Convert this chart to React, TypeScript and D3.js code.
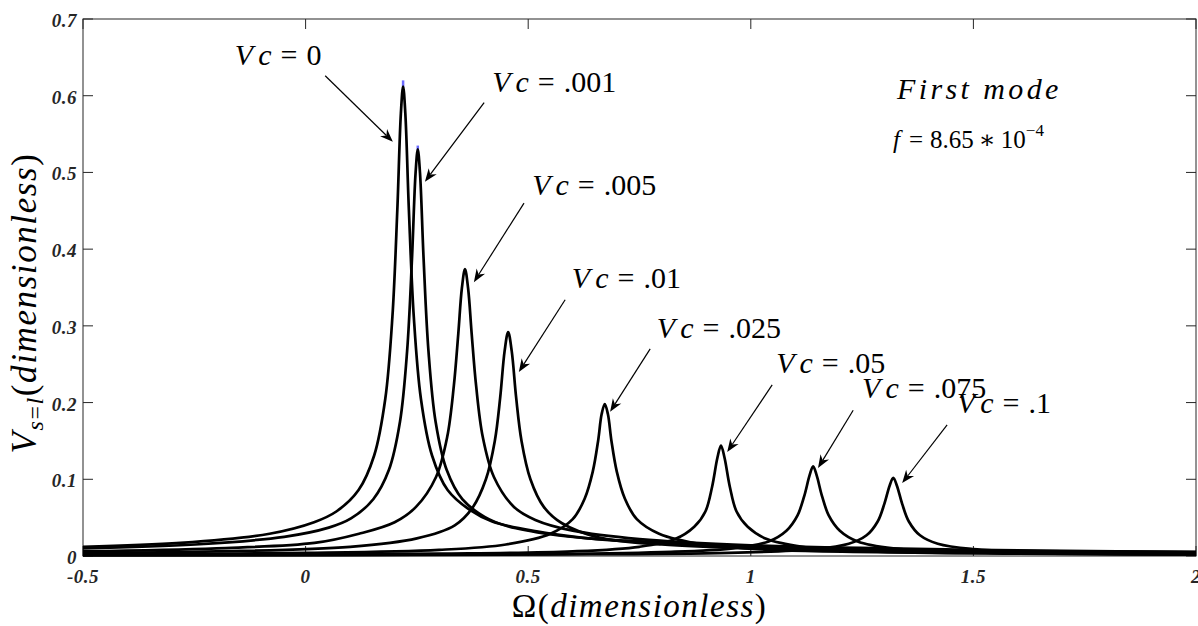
import React from 'react';
import * as d3 from 'd3';

const WIDTH = 1198;
const HEIGHT = 626;
const MARGIN = { top: 19, right: 2, bottom: 70, left: 83 };

const xTicks = [-0.5, 0, 0.5, 1, 1.5, 2];
const xTickLabels = ['-0.5', '0', '0.5', '1', '1.5', '2'];
const yTicks = [0, 0.1, 0.2, 0.3, 0.4, 0.5, 0.6, 0.7];
const yTickLabels = ['0', '0.1', '0.2', '0.3', '0.4', '0.5', '0.6', '0.7'];

// response curves (Omega, V_s=l)
const omegaVc0 = [-0.5, -0.281, -0.081, 0.019, 0.069, 0.119, 0.154, 0.179, 0.195, 0.206, 0.214, 0.219, 0.224, 0.232, 0.243, 0.259, 0.284, 0.319, 0.369, 0.419, 0.519, 0.619, 0.719, 1.0, 1.5, 2.0];
const ampVc0 = [0.012, 0.017, 0.029, 0.044, 0.058, 0.086, 0.131, 0.205, 0.312, 0.451, 0.577, 0.612, 0.577, 0.451, 0.312, 0.205, 0.131, 0.086, 0.06, 0.045, 0.032, 0.024, 0.02, 0.013, 0.007, 0.005];

const omegaVc001 = [-0.5, -0.248, -0.048, 0.052, 0.102, 0.152, 0.187, 0.212, 0.228, 0.239, 0.247, 0.252, 0.257, 0.265, 0.276, 0.292, 0.317, 0.352, 0.402, 0.452, 0.552, 0.652, 0.752, 1.0, 1.5, 2.0];
const ampVc001 = [0.01, 0.015, 0.025, 0.037, 0.049, 0.074, 0.112, 0.175, 0.267, 0.388, 0.499, 0.53, 0.499, 0.388, 0.267, 0.175, 0.112, 0.074, 0.051, 0.039, 0.028, 0.022, 0.018, 0.012, 0.007, 0.005];

const omegaVc005 = [-0.5, -0.2, 0.02, 0.12, 0.2, 0.248, 0.293, 0.318, 0.333, 0.343, 0.351, 0.358, 0.365, 0.373, 0.383, 0.398, 0.423, 0.468, 0.516, 0.6, 0.75, 1.0, 1.5, 2.0];
const ampVc005 = [0.006, 0.01, 0.017, 0.029, 0.044, 0.064, 0.103, 0.155, 0.222, 0.29, 0.349, 0.374, 0.349, 0.29, 0.222, 0.155, 0.103, 0.064, 0.047, 0.033, 0.022, 0.014, 0.008, 0.005];

const omegaVc01 = [-0.5, -0.2, 0.1, 0.25, 0.335, 0.375, 0.405, 0.425, 0.437, 0.447, 0.455, 0.463, 0.473, 0.485, 0.505, 0.535, 0.575, 0.66, 0.8, 1.0, 1.5, 2.0];
const ampVc01 = [0.004, 0.006, 0.012, 0.023, 0.04, 0.063, 0.1, 0.15, 0.206, 0.267, 0.292, 0.267, 0.206, 0.15, 0.1, 0.064, 0.043, 0.024, 0.015, 0.01, 0.006, 0.004];

const omegaVc025 = [-0.5, 0.0, 0.3, 0.45, 0.55, 0.6, 0.627, 0.645, 0.657, 0.665, 0.672, 0.679, 0.687, 0.699, 0.717, 0.744, 0.794, 0.894, 1.05, 1.5, 2.0];
const ampVc025 = [0.002, 0.004, 0.008, 0.015, 0.029, 0.048, 0.075, 0.11, 0.15, 0.185, 0.198, 0.185, 0.15, 0.11, 0.075, 0.048, 0.029, 0.015, 0.008, 0.004, 0.003];

const omegaVc05 = [-0.5, 0.3, 0.6, 0.75, 0.83, 0.873, 0.898, 0.913, 0.925, 0.933, 0.941, 0.953, 0.968, 0.993, 1.036, 1.116, 1.266, 1.6, 2.0];
const ampVc05 = [0.001, 0.003, 0.006, 0.012, 0.022, 0.038, 0.058, 0.09, 0.128, 0.144, 0.128, 0.09, 0.058, 0.038, 0.022, 0.012, 0.006, 0.003, 0.002];

const omegaVc075 = [-0.5, 0.5, 0.8, 0.96, 1.04, 1.08, 1.105, 1.12, 1.132, 1.14, 1.148, 1.16, 1.175, 1.2, 1.24, 1.32, 1.48, 2.0];
const ampVc075 = [0.001, 0.002, 0.005, 0.01, 0.019, 0.033, 0.053, 0.078, 0.105, 0.117, 0.105, 0.078, 0.053, 0.033, 0.019, 0.01, 0.005, 0.002];

const omegaVc1 = [-0.5, 0.5, 0.95, 1.14, 1.22, 1.26, 1.285, 1.3, 1.312, 1.32, 1.328, 1.34, 1.355, 1.38, 1.42, 1.5, 1.69, 2.0];
const ampVc1 = [0.001, 0.002, 0.004, 0.009, 0.016, 0.027, 0.045, 0.068, 0.092, 0.102, 0.092, 0.068, 0.045, 0.027, 0.016, 0.009, 0.004, 0.002];

const vcNames = ['0', '.001', '.005', '.01', '.025', '.05', '.075', '.1'];

// annotation positions in data units
const labelOmega = [-0.159, 0.419, 0.509, 0.598, 0.789, 1.057, 1.25, 1.463];
const labelAmp = [0.64, 0.605, 0.471, 0.349, 0.284, 0.2386, 0.206, 0.186];
const arrowFromOmega = [0.044, 0.401, 0.4906, 0.583, 0.774, 1.048, 1.23, 1.441];
const arrowFromAmp = [0.626, 0.591, 0.46, 0.334, 0.27, 0.223, 0.19, 0.171];
const arrowToOmega = [0.196, 0.268, 0.378, 0.479, 0.684, 0.947, 1.151, 1.34];
const arrowToAmp = [0.54, 0.488, 0.357, 0.24, 0.188, 0.1356, 0.1147, 0.095];

// blue peak markers on the first two curves
const markOmega = [0.219, 0.252];
const markLow = [0.611, 0.529];
const markHigh = [0.62, 0.535];

const series = [
  [omegaVc0, ampVc0],
  [omegaVc001, ampVc001],
  [omegaVc005, ampVc005],
  [omegaVc01, ampVc01],
  [omegaVc025, ampVc025],
  [omegaVc05, ampVc05],
  [omegaVc075, ampVc075],
  [omegaVc1, ampVc1],
].map(([om, am]) => om.map((o, i) => [o, am[i]] as [number, number]));

const SERIF = "'Liberation Serif', Tinos, 'Times New Roman', 'DejaVu Serif', serif";
const AXIS_COLOR = '#262626';

function arrowHead(sx: number, sy: number, tx: number, ty: number) {
  const len = Math.hypot(tx - sx, ty - sy);
  const ux = (tx - sx) / len;
  const uy = (ty - sy) / len;
  const nx = -uy;
  const ny = ux;
  const L = 13, W = 5, N = 4;
  const bx = tx - L * ux, by = ty - L * uy;
  const mx = tx - (L - N) * ux, my = ty - (L - N) * uy;
  return {
    head: `M${tx},${ty}L${bx + W * nx},${by + W * ny}L${mx},${my}L${bx - W * nx},${by - W * ny}Z`,
    mx,
    my,
  };
}

export default function App() {
  const x = d3.scaleLinear().domain([-0.5, 2]).range([MARGIN.left, WIDTH - MARGIN.right]);
  const y = d3.scaleLinear().domain([0, 0.7]).range([HEIGHT - MARGIN.bottom, MARGIN.top]);
  const line = d3
    .line<[number, number]>()
    .x(d => x(d[0]))
    .y(d => y(d[1]))
    .curve(d3.curveCatmullRom.alpha(0.5));

  const left = MARGIN.left;
  const right = WIDTH - MARGIN.right;
  const top = MARGIN.top;
  const bottom = HEIGHT - MARGIN.bottom;
  const TICK = 10;

  return (
    <div style={{ position: 'absolute', left: 0, top: 0 }}>
      <svg width={WIDTH} height={HEIGHT} style={{ display: 'block', background: '#fff', fontFamily: SERIF }}>
        {/* frame */}
        <rect x={left} y={top} width={right - left} height={bottom - top} fill="none" stroke={AXIS_COLOR} strokeWidth={1} />

        {/* ticks */}
        {xTicks.map((t, i) => (
          <g key={'xt' + i}>
            <line x1={x(t)} x2={x(t)} y1={bottom} y2={bottom - TICK} stroke={AXIS_COLOR} />
            <line x1={x(t)} x2={x(t)} y1={top} y2={top + TICK} stroke={AXIS_COLOR} />
            <text
              x={x(t)}
              y={bottom + 27}
              textAnchor="middle"
              style={{ fontFamily: SERIF, fontWeight: 'bold', fontStyle: 'italic', fontSize: 19, letterSpacing: 0.5 }}
              fill={AXIS_COLOR}
            >
              {xTickLabels[i]}
            </text>
          </g>
        ))}
        {yTicks.map((t, i) => (
          <g key={'yt' + i}>
            <line x1={left} x2={left + TICK} y1={y(t)} y2={y(t)} stroke={AXIS_COLOR} />
            <line x1={right} x2={right - TICK} y1={y(t)} y2={y(t)} stroke={AXIS_COLOR} />
            <text
              x={left - 6}
              y={y(t) + 8}
              textAnchor="end"
              style={{ fontFamily: SERIF, fontWeight: 'bold', fontStyle: 'italic', fontSize: 19, letterSpacing: 0.5 }}
              fill={AXIS_COLOR}
            >
              {yTickLabels[i]}
            </text>
          </g>
        ))}

        {/* peak markers */}
        {markOmega.map((m, i) => (
          <line key={'mk' + i} x1={x(m)} x2={x(m)} y1={y(markLow[i])} y2={y(markHigh[i])} stroke="#6b6bff" strokeWidth={2.5} />
        ))}

        {/* curves */}
        {series.map((s, i) => (
          <path key={'c' + i} d={line(s) || ''} fill="none" stroke="#000" strokeWidth={2.7} strokeLinejoin="round" />
        ))}

        {/* annotations */}
        {vcNames.map((name, i) => {
          const sx = x(arrowFromOmega[i]);
          const sy = y(arrowFromAmp[i]);
          const tx = x(arrowToOmega[i]);
          const ty = y(arrowToAmp[i]);
          const a = arrowHead(sx, sy, tx, ty);
          return (
            <g key={'a' + i}>
              <line x1={sx} y1={sy} x2={a.mx} y2={a.my} stroke="#000" strokeWidth={1.2} />
              <path d={a.head} fill="#000" />
              <text x={x(labelOmega[i])} y={y(labelAmp[i])} style={{ fontFamily: SERIF, fontSize: 30 }} fill="#000">
                <tspan fontStyle="italic">V</tspan>
                <tspan fontStyle="italic" dx={5}>c</tspan>
                <tspan dx={9}>=</tspan>
                <tspan dx={9}>{name}</tspan>
              </text>
            </g>
          );
        })}

        {/* mode text */}
        <text x={897} y={99} style={{ fontFamily: SERIF, fontStyle: 'italic', fontSize: 30, letterSpacing: 3.4 }}>
          First mode
        </text>
        <text x={893} y={148} style={{ fontFamily: SERIF, fontSize: 25 }}>
          <tspan fontStyle="italic">f</tspan>
          <tspan dx={9}>=</tspan>
          <tspan dx={7}>8.65</tspan>
          <tspan dx={5}>∗</tspan>
          <tspan dx={5}>10</tspan>
          <tspan fontSize={17} dy={-12}>−4</tspan>
        </text>

        {/* axis titles */}
        <text x={(left + right) / 2} y={617} textAnchor="middle" style={{ fontFamily: SERIF, fontSize: 33, letterSpacing: 1.5 }}>
          Ω(<tspan fontStyle="italic">dimensionless</tspan>)
        </text>
        <text transform={`translate(36,${303}) rotate(-90)`} textAnchor="middle" style={{ fontFamily: SERIF, fontSize: 35, letterSpacing: 1.6 }}>
          <tspan fontStyle="italic">V</tspan>
          <tspan fontStyle="italic" fontSize={24} dy={7}>s</tspan>
          <tspan fontSize={24}>=</tspan>
          <tspan fontStyle="italic" fontSize={24}>l</tspan>
          <tspan dy={-7}>(</tspan>
          <tspan fontStyle="italic">dimensionless</tspan>
          <tspan>)</tspan>
        </text>
      </svg>
    </div>
  );
}
